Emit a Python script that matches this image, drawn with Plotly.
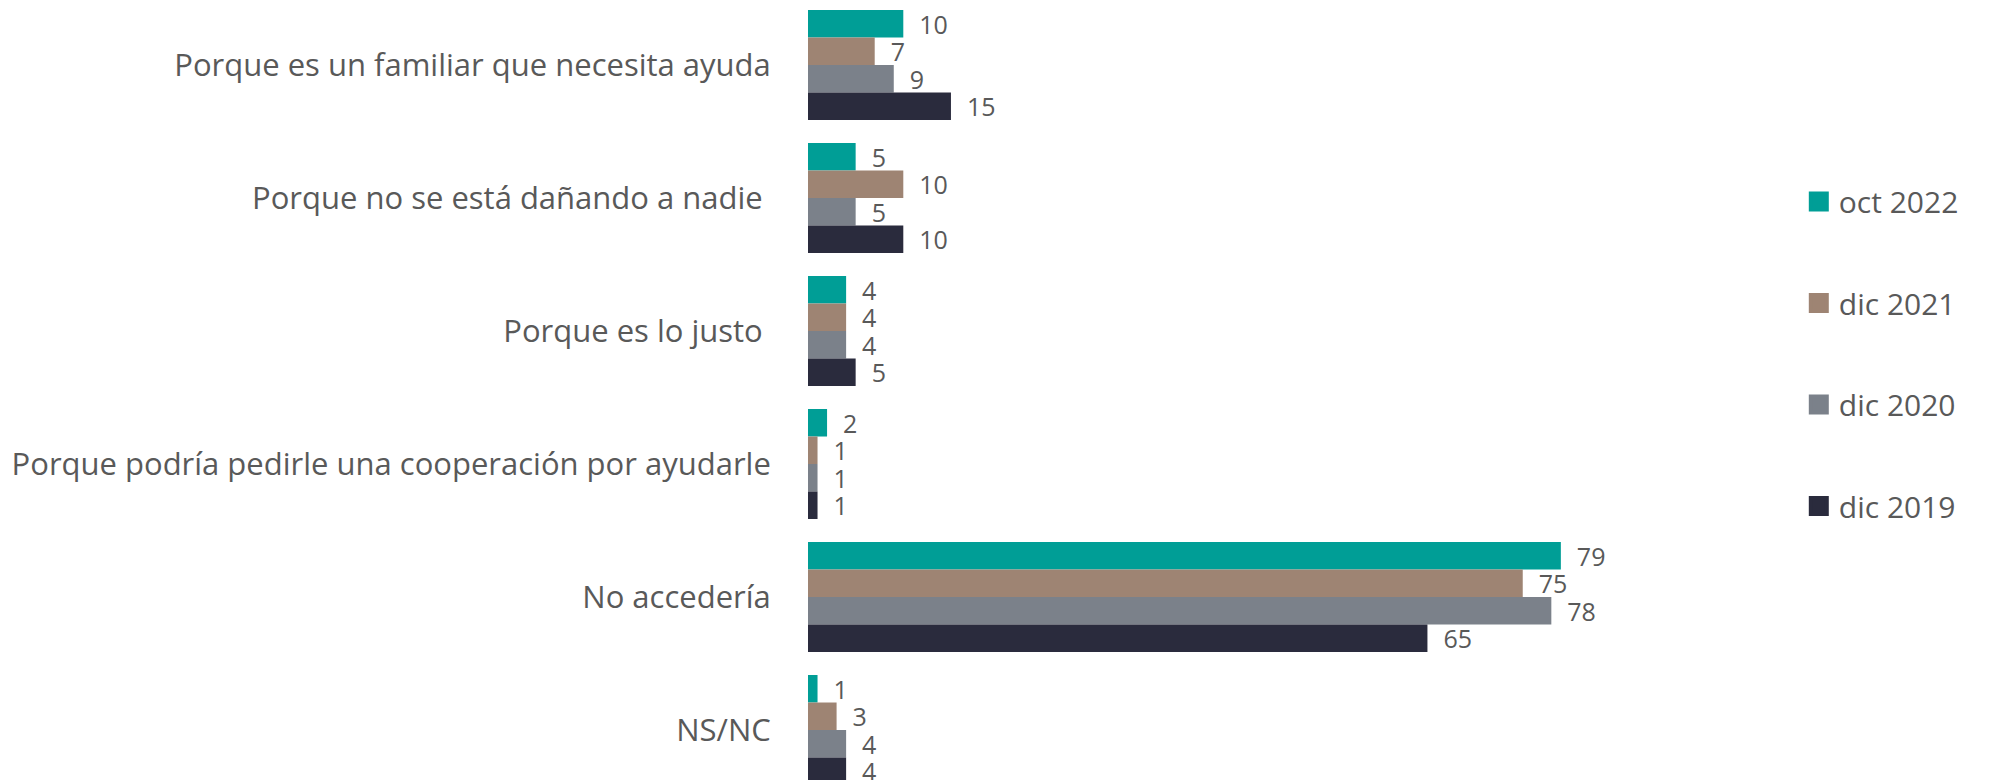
import plotly.graph_objects as go

# Survey answers (percent), one list per wave
categories = [
    "Porque es un familiar que necesita ayuda",
    "Porque no se está dañando a nadie ",
    "Porque es lo justo ",
    "Porque podría pedirle una cooperación por ayudarle",
    "No accedería",
    "NS/NC",
]
series_names = ["oct 2022", "dic 2021", "dic 2020", "dic 2019"]
oct_2022 = [10, 5, 4, 2, 79, 1]
dic_2021 = [7, 10, 4, 1, 75, 3]
dic_2020 = [9, 5, 4, 1, 78, 4]
dic_2019 = [15, 10, 5, 1, 65, 4]

series_values = [oct_2022, dic_2021, dic_2020, dic_2019]
colors = ["#009E96", "#9E8473", "#7B818A", "#2A2B3D"]

TEXT_COLOR = "#595959"
FONT = "'Open Sans', Lato, sans-serif"

fig = go.Figure()
for i, (name, vals, col) in enumerate(zip(series_names, series_values, colors)):
    fig.add_trace(go.Bar(
        name=name,
        y=categories,
        x=vals,
        orientation="h",
        marker=dict(color=col, line=dict(width=0)),
        text=[str(v) for v in vals],
        texttemplate="\u00a0\u00a0%{text}",
        textposition="outside",
        constraintext="none",
        textfont=dict(family=FONT, size=25, color=TEXT_COLOR),
        cliponaxis=False,
        showlegend=False,
    ))

# Legend entries with larger square swatches
for i, (name, col) in enumerate(zip(series_names, colors)):
    fig.add_trace(go.Scatter(
        name=name,
        x=[None],
        y=[None],
        mode="markers",
        marker=dict(symbol="square", size=16, color=col,
                    line=dict(width=4, color=col)),
        legendgroup=f"g{i}",
        showlegend=True,
        hoverinfo="skip",
    ))

fig.update_layout(
    width=2002,
    height=780,
    margin=dict(l=808, r=302, t=0, b=0),
    paper_bgcolor="white",
    plot_bgcolor="white",
    barmode="group",
    bargap=0.173,
    bargroupgap=0,
    font=dict(family=FONT, color=TEXT_COLOR),
    showlegend=True,
    legend=dict(
        xref="container", yref="container",
        x=0.8985, y=0.775, xanchor="left", yanchor="top",
        font=dict(family=FONT, size=30, color=TEXT_COLOR),
        traceorder="grouped",
        tracegroupgap=59.5,
        itemsizing="trace",
        bgcolor="rgba(0,0,0,0)",
    ),
    xaxis=dict(
        range=[0, 93.6],
        visible=False,
        showgrid=False,
        zeroline=False,
    ),
    yaxis=dict(
        type="category",
        range=[5.376, -0.489],
        showgrid=False,
        zeroline=False,
        showline=False,
        ticks="outside",
        ticklen=30,
        tickcolor="rgba(0,0,0,0)",
        tickfont=dict(family=FONT, size=31, color=TEXT_COLOR),
    ),
)

fig.write_html("out.html")
